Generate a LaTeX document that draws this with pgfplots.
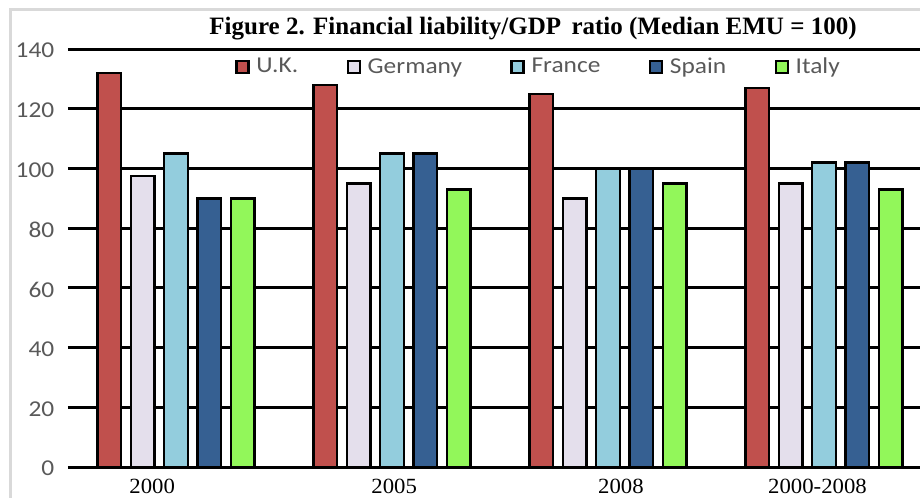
\documentclass[border=0pt]{standalone}
\usepackage{fontspec}
\setmainfont{Liberation Serif}
\newfontfamily\calibri[FakeStretch=1.12]{Carlito}
\newfontfamily\timeswide[FakeStretch=1.05]{Liberation Serif}
\usepackage{pgfplots}
\pgfplotsset{compat=1.18}
\definecolor{ukc}{HTML}{C0504D}
\definecolor{dec}{HTML}{E4DFEC}
\definecolor{frc}{HTML}{93CDDD}
\definecolor{esc}{HTML}{366092}
\definecolor{itc}{HTML}{92F75A}
\definecolor{txtgray}{HTML}{595959}
\definecolor{framegray}{HTML}{D9D9D9}
\begin{document}
\begin{tikzpicture}
\path[use as bounding box] (0pt,0pt) rectangle (552pt,298.2pt);
\begin{scope}
\clip (0pt,0pt) rectangle (552pt,298.2pt);
\draw[framegray, line width=1.8pt] (6pt,-3pt) -- (6pt,292.5pt) -- (558pt,292.5pt);
\begin{axis}[
  at={(40.8pt,18pt)}, anchor=south west,
  scale only axis, width=511.2pt, height=250.8pt,
  xmin=-0.5, xmax=3.4444, ymin=0, ymax=140,
  ytick={0,20,...,140},
  xtick={-0.11,1.01,2.06,2.97},
  xticklabels={2000,2005,2008,2000-2008},
  axis line style={draw=none},
  major tick length=0pt,
  ymajorgrids, grid style={black, line width=1.8pt},
  /pgf/number format/assume math mode=true,
  yticklabel style={font=\calibri\fontsize{13.6}{15}\selectfont, text=txtgray, anchor=east, inner sep=0pt, xshift=-8pt, yshift=-1pt},
  xticklabel style={font=\timeswide\fontsize{13}{15}\selectfont, anchor=base, inner sep=0pt, yshift=-15.6pt},
  bar width=0.109,
  every axis plot/.append style={ybar, draw=black, line width=1.5pt},
  legend columns=5,
  legend style={draw=none, fill=none, at={(0.19,0.957)}, anchor=west,
    font=\calibri\fontsize{13.6}{15}\selectfont, text=txtgray,
    /tikz/every even column/.append style={column sep=27pt},
    /tikz/every odd column/.append style={column sep=2pt}},
  legend image code/.code={\draw[#1, line width=1.5pt] (0pt,-3.6pt) rectangle (7.2pt,3.6pt);},
]
\addplot[fill=ukc, bar shift=-0.3092] coordinates {(0,132) (1,128) (2,125) (3,127)};
\addplot[fill=dec, bar shift=-0.1546] coordinates {(0,97.5) (1,95) (2,90) (3,95)};
\addplot[fill=frc, bar shift=0] coordinates {(0,105) (1,105) (2,100) (3,102)};
\addplot[fill=esc, bar shift=0.1546] coordinates {(0,90) (1,105) (2,100) (3,102)};
\addplot[fill=itc, bar shift=0.3092] coordinates {(0,90) (1,93) (2,95) (3,93)};
\legend{U.K.,Germany,France,Spain,Italy}
\end{axis}
\node[anchor=base, font=\bfseries\fontsize{15}{17}\selectfont, inner sep=0pt] at (319.8pt,277.8pt) {Figure 2. Financial liability/GDP\, ratio (Median EMU = 100)};
\end{scope}
\end{tikzpicture}
\end{document}
